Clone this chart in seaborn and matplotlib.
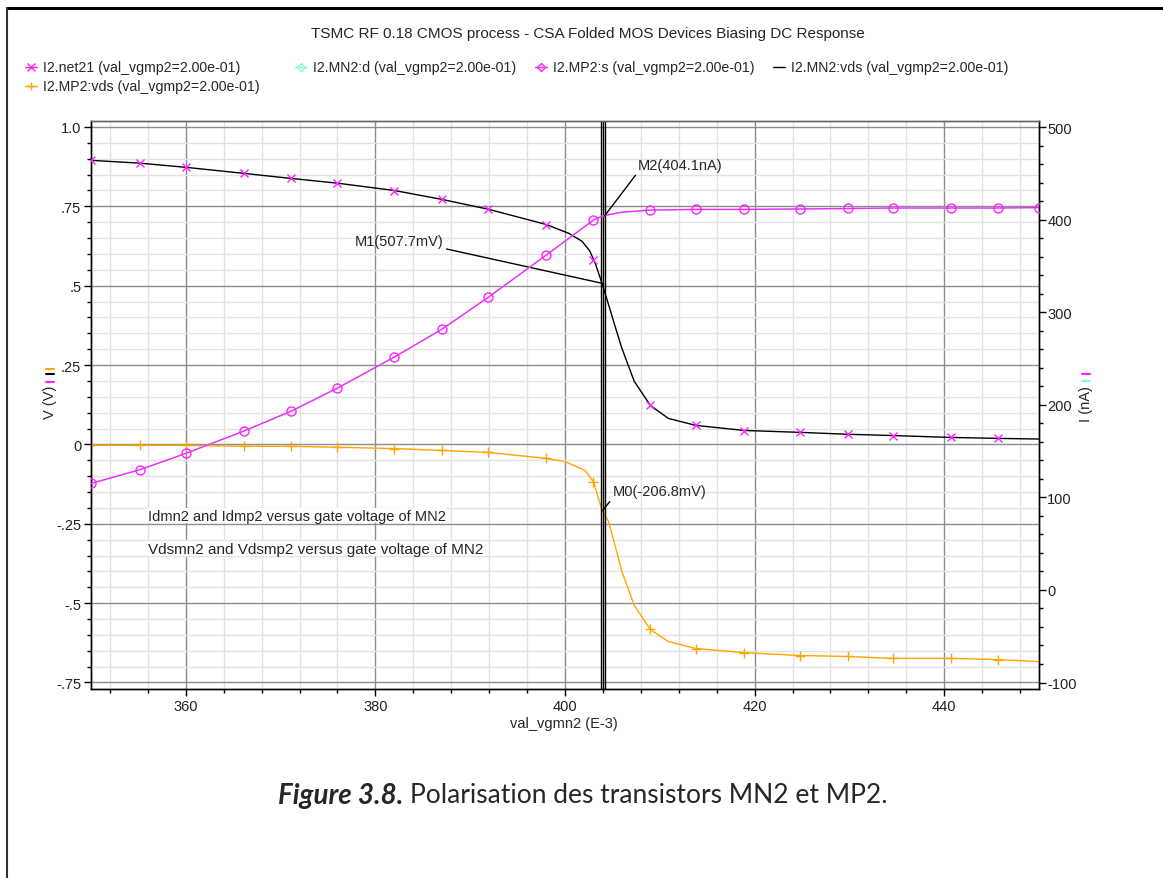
import numpy as np
import matplotlib
matplotlib.use("Agg")
import matplotlib.pyplot as plt
from matplotlib.lines import Line2D
from matplotlib.ticker import MultipleLocator, FixedLocator
import seaborn as sns

# ---- data ----
# MN2:vds (V) - black curve
vds_n_x = [350, 355.2, 360, 366.1, 371.1, 376, 382, 387, 391.9, 398, 400.4, 401.8, 402.6,
           403.2, 403.9, 404.5, 405.2, 406, 407.3, 409, 410.9, 413.8, 418.9, 424.8,
           429.8, 434.6, 440.7, 445.7, 450]
vds_n_v = [0.895, 0.886, 0.873, 0.854, 0.838, 0.823, 0.800, 0.772, 0.741, 0.693, 0.665, 0.640, 0.610,
           0.570, 0.5077, 0.450, 0.380, 0.303, 0.199, 0.123, 0.082, 0.060, 0.044, 0.038,
           0.032, 0.028, 0.022, 0.019, 0.017]

# net21 current (nA) - magenta x markers (sit on the black curve)
net21_x = [350, 355.2, 360, 366.1, 371.1, 376, 382, 387, 391.9, 398, 403, 409, 413.8, 418.9,
           424.8, 429.8, 434.6, 440.7, 445.7]
net21_na = [464.0, 460.9, 456.5, 449.9, 444.5, 439.3, 431.4, 421.8, 411.2, 394.7, 356.0, 199.3,
            177.7, 172.2, 170.2, 168.1, 166.7, 164.7, 163.7]

# MP2:vds (V) - orange curve
vds_p_x = [350, 355.2, 360, 366.1, 371.1, 376, 382, 387, 391.9, 398, 400, 402.1, 403, 403.9,
           404.6, 405.2, 406, 407.3, 409, 410.9, 413.8, 418.9, 424.8, 429.8, 434.6, 440.7,
           445.7, 450]
vds_p_v = [-0.003, -0.003, -0.003, -0.006, -0.006, -0.009, -0.013, -0.019, -0.025, -0.044, -0.054,
           -0.082, -0.117, -0.2068, -0.243, -0.31, -0.40, -0.507, -0.583, -0.621, -0.643, -0.656,
           -0.665, -0.668, -0.674, -0.674, -0.678, -0.684]

# MP2:s current (nA) - magenta circles, MN2:d hidden underneath
mp2_s_x = [350, 355.2, 360, 366.1, 371.1, 376, 382, 387, 391.9, 398, 403, 404, 406, 409, 413.8,
           418.9, 424.8, 429.8, 434.6, 440.7, 445.7, 450]
mp2_s_na = [115, 130, 147.5, 171.5, 193, 218, 251.5, 281.5, 316, 361.5, 399.5, 404.1, 408, 410.3,
            411, 411, 411.5, 412, 412.5, 412.5, 412.5, 413]
mn2_d_na = list(mp2_s_na)

legend_labels = ["I2.net21 (val_vgmp2=2.00e-01)", "I2.MN2:d (val_vgmp2=2.00e-01)",
                 "I2.MP2:s (val_vgmp2=2.00e-01)", "I2.MN2:vds (val_vgmp2=2.00e-01)",
                 "I2.MP2:vds (val_vgmp2=2.00e-01)"]
left_ticks = [-0.75, -0.5, -0.25, 0, 0.25, 0.5, 0.75, 1.0]
left_ticklabels = ["-.75", "-.5", "-.25", "0", ".25", ".5", ".75", "1.0"]
right_ticks = [-100, 0, 100, 200, 300, 400, 500]
x_ticks = [360, 380, 400, 420, 440]

MAG = "#ff22ff"
ORANGE = "#ffa500"
CYAN = "#80ffd4"
FS = 10.5

sns.set_style("white")
plt.rcParams["font.family"] = ["Liberation Sans", "DejaVu Sans"]
plt.rcParams["axes.unicode_minus"] = False

W, H = 1163, 879
fig = plt.figure(figsize=(W / 100, H / 100), dpi=100)

def fx(px):
    return px / W

def fy(py):
    return 1 - py / H

ax = fig.add_axes([fx(91), fy(690), fx(1039) - fx(91), fy(122) - fy(690)])
ax2 = ax.twinx()

# grid on the left axis
ax.set_xlim(350, 450)
ax.set_ylim(-0.7705, 1.0189)
ax2.set_ylim(-107.0, 506.5)
ax.xaxis.set_major_locator(FixedLocator(x_ticks))
ax.xaxis.set_minor_locator(MultipleLocator(4))
ax.yaxis.set_major_locator(FixedLocator(left_ticks))
ax.yaxis.set_minor_locator(MultipleLocator(0.05))
ax2.yaxis.set_major_locator(FixedLocator(right_ticks))
ax2.yaxis.set_minor_locator(MultipleLocator(20))
ax.grid(which="minor", color="#e2e2e2", linewidth=1)
ax.grid(which="major", color="#8c8c8c", linewidth=1)
ax.set_axisbelow(True)

# curves
sns.lineplot(x=mp2_s_x, y=mn2_d_na, ax=ax2, color=CYAN, linewidth=1, zorder=2)
sns.lineplot(x=mp2_s_x, y=mp2_s_na, ax=ax2, color=MAG, linewidth=1, marker="o",
             markersize=6.5, markerfacecolor="none", markeredgecolor=MAG, markeredgewidth=1,
             markevery=[i for i in range(len(mp2_s_x)) if mp2_s_x[i] not in (404, 406)], zorder=3)
sns.lineplot(x=vds_n_x, y=vds_n_v, ax=ax, color="black", linewidth=1, zorder=3)
sns.lineplot(x=vds_p_x, y=vds_p_v, ax=ax, color=ORANGE, linewidth=1, marker="+",
             markersize=7, markeredgecolor=ORANGE, markeredgewidth=1,
             markevery=[i for i in range(len(vds_p_x)) if vds_p_x[i] in net21_x], zorder=3)
ax2.plot(net21_x, net21_na, linestyle="none", marker="x", markersize=6,
         color=MAG, markeredgewidth=1, zorder=4)

# marker cursor lines
for xv in (403.76, 403.97, 404.18):
    ax.axvline(xv, color="black", linewidth=1, zorder=5)

# marker annotations
arrow = dict(arrowstyle="-", color="black", linewidth=1, shrinkA=0, shrinkB=0)
ax.annotate("M1(507.7mV)", xy=(403.9, 0.5077), xytext=(377.8, 0.64), fontsize=FS,
            va="center", ha="left", arrowprops=dict(arrow, relpos=(1, 0)), zorder=6)
ax2.annotate("M2(404.1nA)", xy=(404.18, 404.1), xytext=(407.7, 459), fontsize=FS,
             va="center", ha="left", arrowprops=dict(arrow, relpos=(0, 0)), zorder=6)
ax.annotate("M0(-206.8mV)", xy=(404.0, -0.2068), xytext=(405.0, -0.148), fontsize=FS,
            va="center", ha="left", arrowprops=dict(arrow, relpos=(0, 0)), zorder=6)

ax.text(356.0, -0.224, "Idmn2 and Idmp2 versus gate voltage of MN2", fontsize=FS,
        va="center", ha="left", bbox=dict(facecolor="white", edgecolor="none", pad=0.5))
ax.text(356.0, -0.328, "Vdsmn2 and Vdsmp2 versus gate voltage of MN2", fontsize=11,
        va="center", ha="left", bbox=dict(facecolor="white", edgecolor="none", pad=0.5))

# ticks and spines
ax.set_yticklabels(left_ticklabels)
ax.tick_params(axis="both", which="major", direction="out", length=5, width=1,
               color="black", labelsize=FS, labelcolor="#222222", pad=2,
               bottom=True, left=True)
ax.tick_params(axis="both", which="minor", direction="out", length=3, width=1,
               color="black", bottom=True, left=True)
ax2.tick_params(axis="y", which="major", direction="out", length=5, width=1,
                color="black", labelsize=FS, labelcolor="#222222", pad=1)
ax2.tick_params(axis="y", which="minor", direction="out", length=3, width=1, color="black")
for a in (ax, ax2):
    for s in ("left", "bottom", "right"):
        a.spines[s].set_color("black")
        a.spines[s].set_linewidth(1)
    a.spines["top"].set_color("#666666")
    a.spines["top"].set_linewidth(1)
ax.set_xlabel("")
ax.set_ylabel("")
ax2.set_ylabel("")

fig.text(fx(564), fy(724), "val_vgmn2 (E-3)", fontsize=FS, ha="center", va="center")

# axis titles with colour keys
fig.text(fx(50), fy(402), "V (V)", rotation=90, fontsize=FS, ha="center", va="center")
for py, c in ((382.7, MAG), (375, "black"), (370, ORANGE)):
    fig.add_artist(Line2D([fx(46), fx(54)], [fy(py), fy(py)], color=c, linewidth=1.5,
                          transform=fig.transFigure))
fig.text(fx(1086), fy(404), "I (nA)", rotation=90, fontsize=FS, ha="center", va="center")
for py, c in ((381.7, CYAN), (375, MAG)):
    fig.add_artist(Line2D([fx(1082), fx(1090)], [fy(py), fy(py)], color=c, linewidth=1.5,
                          transform=fig.transFigure))

# title
fig.text(fx(588), fy(34), "TSMC RF 0.18 CMOS process - CSA Folded MOS Devices Biasing DC Response",
         fontsize=11, ha="center", va="center")

# legend entries drawn by hand to keep the Cadence-style layout
legend_style = [
    dict(color=MAG, marker="x", mfc="none"),
    dict(color=CYAN, marker="D", mfc="none"),
    dict(color=MAG, marker="D", mfc="none"),
    dict(color="black", marker=None, mfc="none"),
    dict(color=ORANGE, marker="+", mfc="none"),
]
legend_pos = [(31, 68), (301, 68), (541, 68), (779, 68), (31, 87)]
for lab, st, (px, py) in zip(legend_labels, legend_style, legend_pos):
    fig.add_artist(Line2D([fx(px - 6), fx(px + 6)], [fy(py), fy(py)], color=st["color"],
                          linewidth=1, transform=fig.transFigure))
    if st["marker"]:
        fig.add_artist(Line2D([fx(px)], [fy(py)], color=st["color"], marker=st["marker"],
                              markersize=6 if st["marker"] != "D" else 4.5,
                              mfc=st["mfc"], mew=1, transform=fig.transFigure))
    fig.text(fx(px + 12), fy(py), lab, fontsize=10.2, ha="left", va="center")

# caption
fig.text(fx(403), fy(796), "Figure 3.8.", fontsize=20, fontweight="bold", fontstyle="italic",
         family=["Lato", "DejaVu Sans"], ha="right", va="center")
fig.text(fx(410), fy(796), "Polarisation des transistors MN2 et MP2.", fontsize=19,
         family=["Lato", "DejaVu Sans"], ha="left", va="center")

# page frame (top and left edges)
fig.add_artist(Line2D([fx(7), 1], [fy(8.5), fy(8.5)], color="black", linewidth=2.2,
                      transform=fig.transFigure))
fig.add_artist(Line2D([fx(7), fx(7)], [fy(8.5), 0], color="#333333", linewidth=1.5,
                      transform=fig.transFigure))

fig.savefig("out.png", dpi=100)
